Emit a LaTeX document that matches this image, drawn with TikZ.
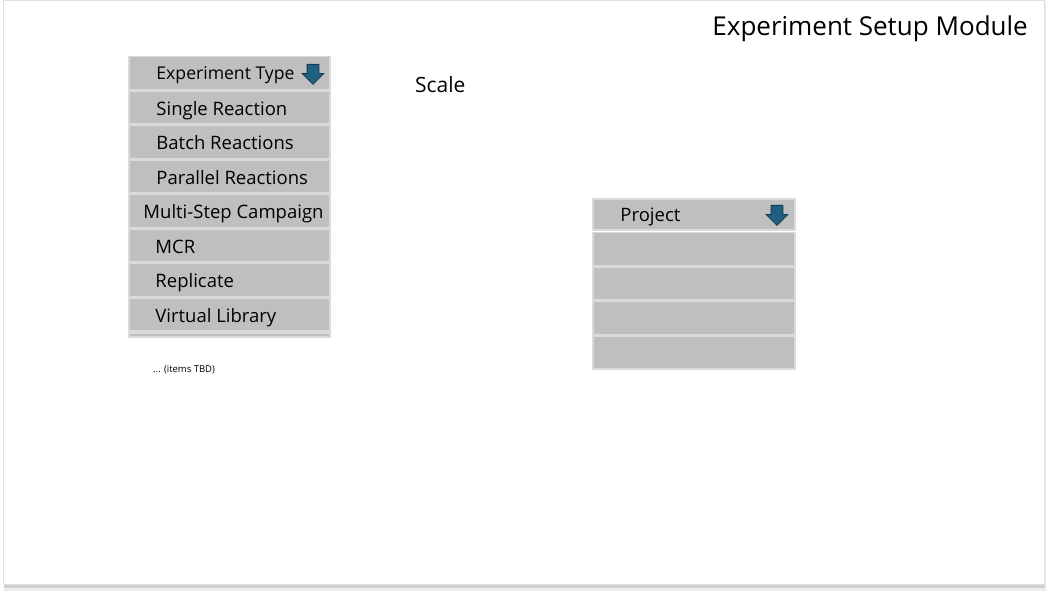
\documentclass[tikz,border=0pt]{standalone}
\usepackage{fontspec}
\setmainfont{Open Sans}
\usetikzlibrary{positioning,shapes.arrows}
\definecolor{cellgray}{HTML}{BFBFBF}
\definecolor{cellline}{HTML}{DADADA}
\definecolor{iconblue}{HTML}{1F5F80}
\definecolor{icondark}{HTML}{123A52}

\begin{document}
\begin{tikzpicture}[x=1pt, y=1pt, node distance=34.5pt,
    cell/.style={rectangle, fill=cellgray, draw=cellline, line width=1.5pt,
      minimum width=201pt, minimum height=33pt, inner sep=0pt},
    entry/.style={font=\fontsize{18.5}{20}\selectfont, inner sep=0pt,
      anchor=base west, xshift=28pt, yshift=-8pt},
    dnarrow/.style={single arrow, shape border rotate=270, fill=iconblue,
      draw=icondark, line width=0.8pt, minimum height=20pt,
      single arrow head extend=5pt, inner sep=5.5pt, anchor=tail}]
  \useasboundingbox (0,0) rectangle (1048,593);
  % slide
  \fill[black!7] (4,2) rectangle (1046,592);
  \fill[black!18] (4,5) rectangle (1045,592);
  \filldraw[fill=white, draw=black!12] (3,9) rectangle (1044,593);

  \node[font=\fontsize{26}{30}\selectfont, anchor=base east, inner sep=0pt] (title) at (1028,557) {Experiment Setup Module};

  % experiment type list
  \node[cell] (typehead) at (229.5,520) {};
  \node[cell] (single) [below of=typehead] {};
  \node[cell] (batch) [below of=single] {};
  \node[cell] (parallel) [below of=batch] {};
  \node[cell] (multi) [below of=parallel] {};
  \node[cell] (mcr) [below of=multi] {};
  \node[cell] (replicate) [below of=mcr] {};
  \node[cell] (virtual) [below of=replicate] {};
  \node[cell, minimum height=4pt] (tail) [below=0.5pt of virtual] {};

  \node[entry, yshift=1pt, font=\fontsize{17.6}{20}\selectfont] (typetxt) at (typehead.west) {Experiment Type};
  \node[dnarrow] (typearrow) at (313,529) {};
  \node[entry] (singletxt) at (single.west) {Single Reaction};
  \node[entry] (batchtxt) at (batch.west) {Batch Reactions};
  \node[entry] (paralleltxt) at (parallel.west) {Parallel Reactions};
  \node[entry, xshift=-13pt] (multitxt) at (multi.west) {Multi-Step Campaign};
  \node[entry, xshift=-1pt] (mcrtxt) at (mcr.west) {MCR};
  \node[entry, xshift=-1pt] (replicatetxt) at (replicate.west) {Replicate};
  \node[entry, xshift=-1pt] (virtualtxt) at (virtual.west) {Virtual Library};

  \node[font=\fontsize{9.5}{11}\selectfont, anchor=base west, inner sep=0pt] (tbd) at (153,220) {... (items TBD)};

  \node[font=\fontsize{21}{24}\selectfont, anchor=base west, inner sep=0pt] (scale) at (415,500) {Scale};

  % project list
  \node[cell, minimum width=202pt, minimum height=31pt] (projhead) at (694,378.5) {};
  \node[cell, minimum width=202pt] (proj1) [below of=projhead] {};
  \node[cell, minimum width=202pt] (proj2) [below of=proj1] {};
  \node[cell, minimum width=202pt] (proj3) [below of=proj2] {};
  \node[cell, minimum width=202pt] (proj4) [below of=proj3] {};

  \node[entry, yshift=1pt] (projtxt) at (projhead.west) {Project};
  \node[dnarrow] (projarrow) at (777,388) {};
\end{tikzpicture}
\end{document}
